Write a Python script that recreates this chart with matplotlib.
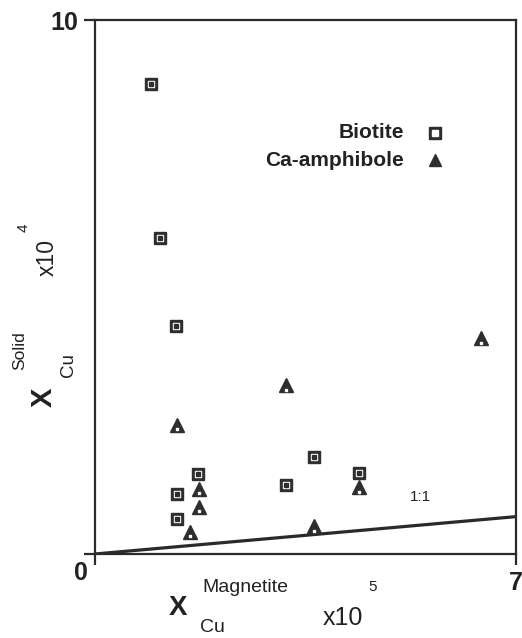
import matplotlib
matplotlib.use('Agg')
import matplotlib.pyplot as plt

plt.rcParams['font.family'] = ['Liberation Sans', 'DejaVu Sans']

# X_Cu magnetite (x10^5) vs X_Cu solid (x10^4)
biotite_x = [0.93, 1.08, 1.35, 1.71, 1.36, 1.36, 3.18, 3.64, 4.39]
biotite_y = [8.80, 5.92, 4.27, 1.50, 1.12, 0.66, 1.29, 1.82, 1.52]
amph_x = [1.36, 1.73, 1.73, 1.58, 3.64, 4.39, 3.18, 6.42]
amph_y = [2.42, 1.22, 0.88, 0.41, 0.52, 1.25, 3.16, 4.04]
line_x = [0, 7]
line_y = [0, 0.7]

dark = '#2e2e2e'
ink = '#222222'
W, H = 522, 638

fig = plt.figure(figsize=(5.22, 6.38), dpi=100)
ax = fig.add_axes([95 / W, 1 - 554 / H, 421 / W, 534 / H])
ax.set_xlim(0, 7)
ax.set_ylim(0, 10)

for s in ax.spines.values():
    s.set_linewidth(1.6)
    s.set_color('#2a2a2a')

ax.set_xticks([0, 7])
ax.set_yticks([0, 10])
ax.set_xticklabels(['', '7'])
ax.set_yticklabels(['', '10'])
ax.tick_params(axis='y', direction='out', length=8, width=1.6, color='#2a2a2a',
               labelsize=18, pad=4)
ax.tick_params(axis='x', direction='out', length=8, width=1.6, color='#2a2a2a',
               labelsize=18, pad=4)
for t in ax.get_xticklabels() + ax.get_yticklabels():
    t.set_fontweight('bold')
    t.set_color(ink)
fig.text(81 / W, 1 - 573 / H, '0', ha='center', va='center',
         fontsize=18, fontweight='bold', color=ink)

ax.plot(line_x, line_y, color='#2a2a2a', lw=2.3, solid_capstyle='butt')
ax.text(5.41, 1.07, '1:1', fontsize=11, ha='center', va='center', color=ink)

# biotite: dark square with white inner square and dot
ax.plot(biotite_x, biotite_y, 's', ms=9, color=dark, ls='none')
ax.plot(biotite_x, biotite_y, 's', ms=5, mfc='white', mec='white', ls='none')
ax.plot(biotite_x, biotite_y, 's', ms=2.2, color=dark, ls='none')
# Ca-amphibole: dark triangle with small white dot
ax.plot(amph_x, amph_y, '^', ms=9.5, color=dark, ls='none')
ax.plot(amph_x, [v - 0.08 for v in amph_y], 's', ms=1.5, color='white', ls='none')

# legend
ax.text((404 - 95) / 421, (554 - 133) / 534, 'Biotite', transform=ax.transAxes,
        ha='right', va='center', fontsize=15, fontweight='bold', color=ink)
ax.text((404 - 95) / 421, (554 - 160) / 534, 'Ca-amphibole', transform=ax.transAxes,
        ha='right', va='center', fontsize=15, fontweight='bold', color=ink)
ax.plot([(435 - 95) / 421], [(554 - 133) / 534], 's', ms=8, color=dark,
        transform=ax.transAxes, clip_on=False)
ax.plot([(435 - 95) / 421], [(554 - 133) / 534], 's', ms=4.5, color='white',
        transform=ax.transAxes, clip_on=False)
ax.plot([(435 - 95) / 421], [(554 - 160) / 534], '^', ms=9, color=dark,
        transform=ax.transAxes, clip_on=False)

# x axis label
fig.text(178 / W, 1 - 608 / H, 'X', fontsize=20, fontweight='bold',
         ha='center', va='center', color=ink)
fig.text(245 / W, 1 - 587 / H, 'Magnetite', fontsize=14,
         ha='center', va='center', color=ink)
fig.text(212 / W, 1 - 628 / H, 'Cu', fontsize=14,
         ha='center', va='center', color=ink)
fig.text(343 / W, 1 - 618 / H, 'x10', fontsize=18,
         ha='center', va='center', color=ink)
fig.text(373 / W, 1 - 587 / H, '5', fontsize=11,
         ha='center', va='center', color=ink)

# y axis label
fig.text(44 / W, 1 - 397 / H, 'X', fontsize=21, fontweight='bold', rotation=90,
         ha='center', va='center', color=ink)
fig.text(20 / W, 1 - 351 / H, 'Solid', fontsize=12.5, rotation=90,
         ha='center', va='center', color=ink)
fig.text(68 / W, 1 - 365 / H, 'Cu', fontsize=13.5, rotation=90,
         ha='center', va='center', color=ink)
fig.text(47 / W, 1 - 257 / H, 'x10', fontsize=16.5, rotation=90,
         ha='center', va='center', color=ink)
fig.text(24 / W, 1 - 228 / H, '4', fontsize=11, rotation=90,
         ha='center', va='center', color=ink)

fig.savefig('out.png', dpi=100)
